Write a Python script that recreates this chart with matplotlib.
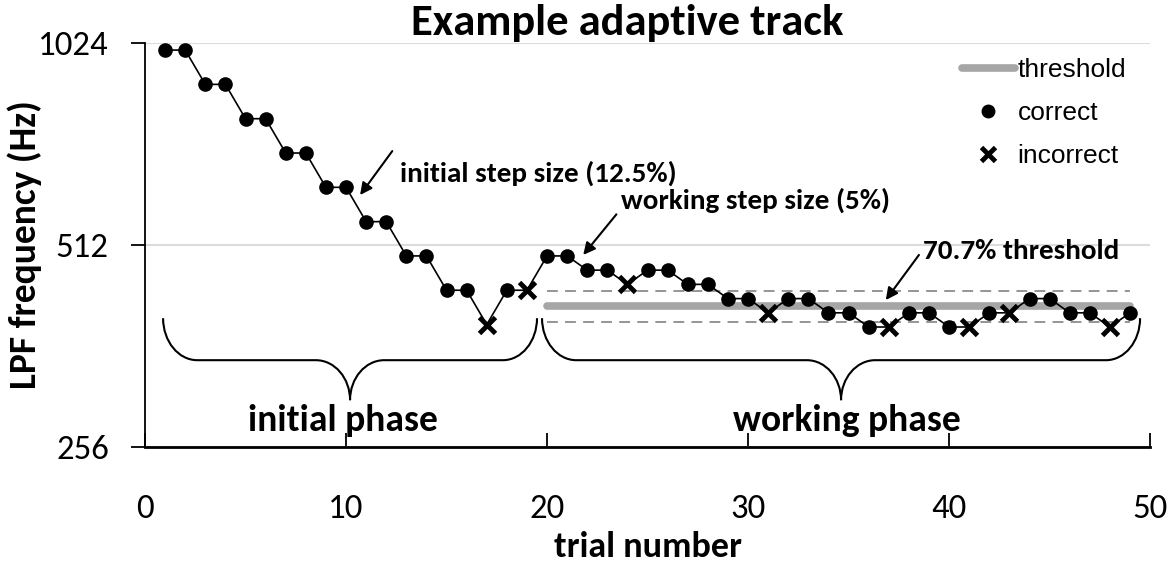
import matplotlib
matplotlib.use("Agg")
import matplotlib.pyplot as plt
from matplotlib.path import Path
from matplotlib.patches import PathPatch
from matplotlib.lines import Line2D
import matplotlib.transforms as mtransforms

# ---------------- data ----------------
trials = list(range(1, 50))
freq_hz = [1000, 1000, 888.9, 888.9, 790.1, 790.1, 702.3, 702.3, 624.3, 624.3,
           554.9, 554.9, 493.3, 493.3, 438.5, 438.5, 389.7, 438.5, 438.5, 493.3,
           493.3, 469.8, 469.8, 447.4, 469.8, 469.8, 447.4, 447.4, 426.1, 426.1,
           405.8, 426.1, 426.1, 405.8, 405.8, 386.5, 386.5, 405.8, 405.8, 386.5,
           386.5, 405.8, 405.8, 426.1, 426.1, 405.8, 405.8, 386.5, 405.8]
correct = [1, 1, 1, 1, 1, 1, 1, 1, 1, 1,
           1, 1, 1, 1, 1, 1, 0, 1, 0, 1,
           1, 1, 1, 0, 1, 1, 1, 1, 1, 1,
           0, 1, 1, 1, 1, 1, 0, 1, 1, 1,
           0, 1, 0, 1, 1, 1, 1, 0, 1]
threshold_hz = 415
threshold_lo_hz = 393
threshold_hi_hz = 438
working_start = 20
working_end = 49
y_ticks = [256, 512, 1024]
x_ticks = [0, 10, 20, 30, 40, 50]

CAL = ["Carlito", "DejaVu Sans"]

fig = plt.figure(figsize=(11.76, 5.68), dpi=100)
ax = fig.add_axes([0.1233, 0.213, 0.8547, 0.711])

ax.set_yscale("log", base=2)
ax.set_ylim(256, 1024)
ax.set_xlim(0, 50)
ax.set_yticks(y_ticks)
ax.set_yticklabels([str(v) for v in y_ticks])
ax.yaxis.set_minor_locator(matplotlib.ticker.NullLocator())
ax.set_xticks(x_ticks)
ax.set_xticklabels([str(v) for v in x_ticks])

for s in ["top", "right"]:
    ax.spines[s].set_visible(False)
ax.spines["left"].set_linewidth(1.3)
ax.spines["bottom"].set_linewidth(2.0)
ax.yaxis.grid(True, color="#dcdcdc", lw=1.5, zorder=0)
ax.set_axisbelow(True)

ax.tick_params(axis="y", direction="out", length=10, width=1.3, pad=16,
               labelsize=25, labelfontfamily="Carlito")
ax.tick_params(axis="x", direction="in", length=10, width=1.3, pad=34,
               labelsize=25, labelfontfamily="Carlito")

# threshold lines
ax.plot([working_start, working_end], [threshold_hz, threshold_hz], color="#a6a6a6",
        lw=5.5, solid_capstyle="round", zorder=2)
for v in (threshold_lo_hz, threshold_hi_hz):
    ax.plot([working_start, working_end], [v, v], color="#8c8c8c", lw=1.3,
            dashes=(6, 4), zorder=2)

# track
ax.plot(trials, freq_hz, color="black", lw=1.2, zorder=3)
cx = [t for t, c in zip(trials, correct) if c]
cy = [f for f, c in zip(freq_hz, correct) if c]
ix = [t for t, c in zip(trials, correct) if not c]
iy = [f for f, c in zip(freq_hz, correct) if not c]
ax.plot(cx, cy, "o", color="black", ms=9.5, zorder=4, clip_on=False)
ax.plot(ix, iy, "x", color="black", ms=11, mew=3.5, zorder=4, clip_on=False)

# labels
ax.set_xlabel("trial number", family=CAL, fontweight="bold", fontsize=26)
ax.xaxis.set_label_coords(0.5, -0.207)
ax.set_ylabel("LPF frequency (Hz)", family=CAL, fontweight="bold", fontsize=27)
ax.yaxis.set_label_coords(-0.1025, 0.5)
ax.text(0.48, 1.02, "Example adaptive track", transform=ax.transAxes, ha="center",
        va="baseline", family=CAL, fontweight="bold", fontsize=32)

# legend
handles = [Line2D([], [], color="#a6a6a6", lw=5.5, solid_capstyle="round"),
           Line2D([], [], ls="none", marker="o", color="black", ms=9),
           Line2D([], [], ls="none", marker="x", color="black", ms=10, mew=3.5)]
leg = fig.legend(handles, ["threshold", "correct", "incorrect"], loc="upper left",
                 bbox_to_anchor=(962 / 1176, 1 - 58 / 568), frameon=False,
                 borderpad=0, borderaxespad=0,
                 prop={"family": "Liberation Sans", "size": 19},
                 handlelength=2.0, handletextpad=0.1, labelspacing=0.72)

# braces
trans = mtransforms.blended_transform_factory(ax.transData, ax.transAxes)
def brace(x0, x1, yt=0.319, ym=0.215, yb=0.116, r=1.7):
    xm = (x0 + x1) / 2
    k = 0.5523
    verts = [(x0, yt), (x0, yt + (ym - yt) * k), (x0 + r * (1 - k), ym), (x0 + r, ym),
             (xm - r, ym),
             (xm - r + r * k, ym), (xm, yb + (ym - yb) * k), (xm, yb),
             (xm, yb + (ym - yb) * k), (xm + r - r * k, ym), (xm + r, ym),
             (x1 - r, ym),
             (x1 - r * (1 - k), ym), (x1, yt + (ym - yt) * k), (x1, yt)]
    codes = [Path.MOVETO, Path.CURVE4, Path.CURVE4, Path.CURVE4,
             Path.LINETO,
             Path.CURVE4, Path.CURVE4, Path.CURVE4,
             Path.CURVE4, Path.CURVE4, Path.CURVE4,
             Path.LINETO,
             Path.CURVE4, Path.CURVE4, Path.CURVE4]
    ax.add_patch(PathPatch(Path(verts, codes), transform=trans, fill=False,
                           lw=1.5, color="black", clip_on=False))
brace(0.9, 19.5)
brace(19.75, 49.5)
ax.text(9.85, 0.066, "initial phase", transform=trans, ha="center", va="center",
        family=CAL, fontweight="bold", fontsize=27)
ax.text(34.9, 0.066, "working phase", transform=trans, ha="center", va="center",
        family=CAL, fontweight="bold", fontsize=27)

# annotations
ap = dict(arrowstyle="-|>", color="black", lw=1.5, mutation_scale=18, shrinkA=0, shrinkB=0)
ax.annotate("", xy=(10.7, 608), xytext=(12.3, 707), arrowprops=ap)
ax.text(12.7, 655, "initial step size (12.5%)", ha="left", va="center",
        family=CAL, fontweight="bold", fontsize=21)
ax.annotate("", xy=(21.8, 495), xytext=(23.45, 569), arrowprops=ap)
ax.text(23.7, 597, "working step size (5%)", ha="left", va="center",
        family=CAL, fontweight="bold", fontsize=21)
ax.annotate("", xy=(36.85, 424), xytext=(38.5, 495), arrowprops=ap)
ax.text(38.7, 502, "70.7% threshold", ha="left", va="center",
        family=CAL, fontweight="bold", fontsize=21)

fig.savefig("out.png", dpi=100)
